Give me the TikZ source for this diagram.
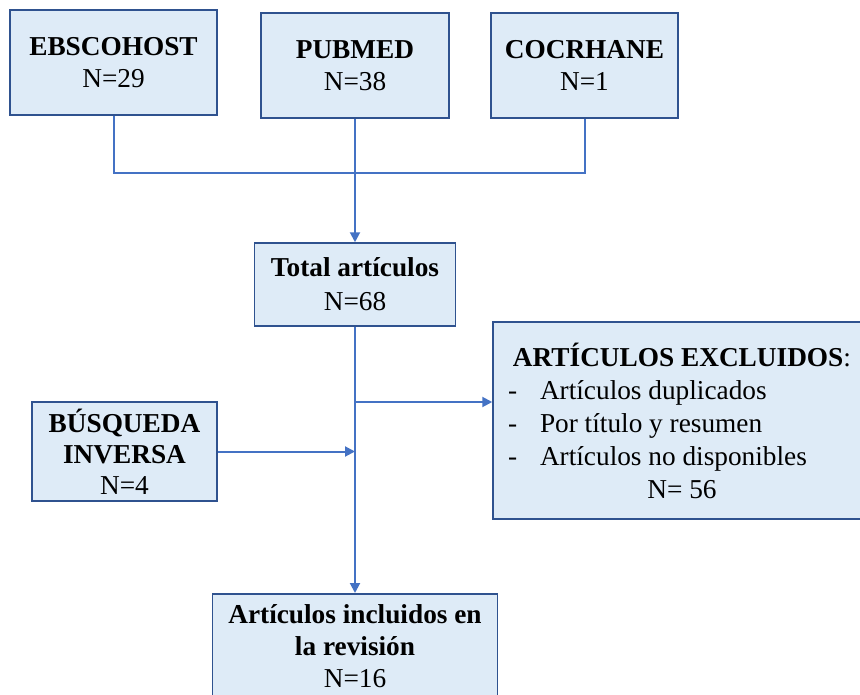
\documentclass[tikz,border=0pt]{standalone}
\usepackage{fontspec}
\setmainfont{Liberation Serif}
\usepackage{xcolor}
\usepackage{tikz}
\usetikzlibrary{arrows.meta}
\definecolor{boxfill}{HTML}{DEEBF7}
\definecolor{boxline}{HTML}{2F528F}
\definecolor{flowline}{HTML}{4472C4}
\newcommand\boxfont{\fontsize{27.3}{32}\selectfont}
\newcommand\exitem[1]{\makebox[348pt][l]{\makebox[32pt][l]{-}#1}}
\tikzstyle{box}=[draw=boxline,line width=1.5pt,fill=boxfill,align=center,inner sep=0pt,font=\boxfont]
\tikzstyle{flow}=[draw=flowline,line width=2pt]
\tikzstyle{flowarr}=[flow,-{Triangle[length=10pt,width=10pt]}]

\begin{document}
\begin{tikzpicture}[x=1pt,y=-1pt]
	\clip (0,0) rectangle (860,694);
	\node[box,minimum width=207pt,minimum height=105pt] (ebsco) at (113.5,62.5) {\textbf{EBSCOHOST}\\N=29};
	\node[box,minimum width=188pt,minimum height=105pt] (pubmed) at (355,65.5) {\textbf{PUBMED}\\N=38};
	\node[box,minimum width=187pt,minimum height=105pt] (cocr) at (584.5,65.5) {\textbf{COCRHANE}\\N=1};
	\node[box,minimum width=201pt,minimum height=83pt,font=\fontsize{27.3}{34}\selectfont] (total) at (355,284.5) {\textbf{Total artículos}\\N=68};
	\node[box,minimum width=185pt,minimum height=99pt,font=\fontsize{27.3}{31}\selectfont] (busq) at (124.5,451.5) {\textbf{BÚSQUEDA}\\\textbf{INVERSA}\\N=4};
	\node[box,minimum width=378pt,minimum height=197pt,font=\fontsize{27.3}{33}\selectfont] (excl) at (682,420.5)
	  {\textbf{ARTÍCULOS EXCLUIDOS}:\\\exitem{Artículos duplicados}\\\exitem{Por título y resumen}\\\exitem{Artículos no disponibles}\\N= 56};
	\node[box,minimum width=285pt,anchor=north,inner ysep=11pt] (incl) at (355,593) {\textbf{Artículos incluidos en}\\\textbf{la revisión}\\N=16};
	\coordinate (join) at (pubmed.south |- 0,173);
	\coordinate (split) at (total.south |- 0,402);
	\draw[flow] (ebsco.south) |- (join) -| (cocr.south);
	\draw[flowarr] (pubmed.south) -- (total.north);
	\draw[flowarr] (total.south) -- (incl.north);
	\draw[flowarr] (split) -- (split -| excl.west);
	\draw[flowarr] (busq.east) -- (busq.east -| total.south);
\end{tikzpicture}
\end{document}
